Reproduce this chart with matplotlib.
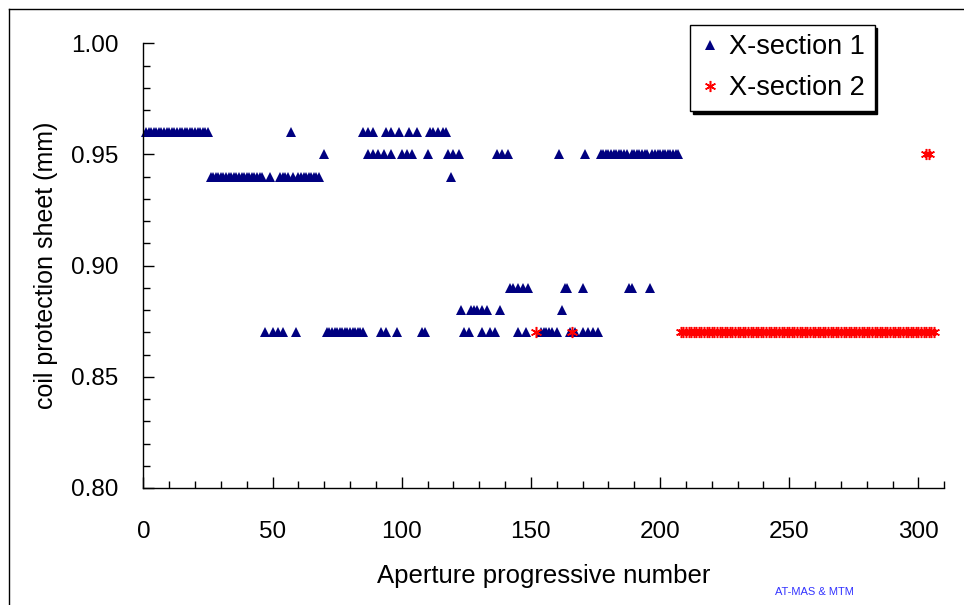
import matplotlib.pyplot as plt
from matplotlib.lines import Line2D
from matplotlib.ticker import MultipleLocator

# X-section 1: aperture numbers for each measured thickness
s1_096 = [1, 2, 3, 4, 5, 6, 7, 8, 9, 10, 11, 12, 13, 14, 15, 16, 17, 18, 19, 20, 21, 22, 23, 24, 25,
          57, 85, 87, 89, 94, 96, 99, 103, 106, 111, 112, 114, 116, 117]
s1_095 = [70, 87, 89, 91, 93, 96, 100, 102, 104, 110, 118, 120, 122, 137, 139, 141, 161, 171,
          177, 178, 179, 180, 181, 182, 183, 184, 185, 186, 187, 189, 190, 191, 192, 193, 194,
          195, 197, 198, 199, 200, 201, 202, 203, 204, 205, 206, 207]
s1_094 = [26, 27, 28, 29, 30, 31, 32, 33, 34, 35, 36, 37, 38, 39, 40, 41, 42, 43, 44, 45, 46,
          49, 53, 54, 55, 56, 58, 60, 61, 62, 63, 64, 65, 66, 67, 68, 119]
s1_089 = [142, 143, 145, 147, 149, 163, 164, 170, 188, 189, 196]
s1_088 = [123, 127, 128, 129, 131, 133, 138, 162]
s1_087 = [47, 50, 52, 54, 59, 71, 72, 73, 74, 75, 76, 77, 78, 79, 80, 81, 82, 83, 84, 85,
          92, 94, 98, 108, 109, 124, 126, 131, 134, 136, 145, 148, 154, 155, 156, 157, 158, 160,
          165, 167, 170, 172, 174, 176]

# X-section 2
s2_095 = [303, 304]
s2_087 = [152, 166,
          208, 209, 210, 211, 212, 213, 214, 215, 216, 217, 218, 219, 220, 221, 222, 223, 224,
          225, 226, 227, 228, 229, 230, 231, 232, 233, 234, 235, 236, 237, 238, 239, 240, 241,
          242, 243, 244, 245, 246, 247, 248, 249, 250, 251, 252, 253, 254, 255, 256, 257, 258,
          259, 260, 261, 262, 263, 264, 265, 266, 267, 268, 269, 270, 271, 272, 273, 274, 275,
          276, 277, 278, 279, 280, 281, 282, 283, 284, 285, 286, 287, 288, 289, 290, 291, 292,
          293, 294, 295, 296, 297, 298, 299, 300, 301, 302, 303, 304, 305, 306]

plt.rcParams['font.family'] = ['Liberation Sans', 'DejaVu Sans']


def series(groups):
    xs, ys = [], []
    for val, apertures in groups:
        xs += apertures
        ys += [val] * len(apertures)
    return xs, ys


def main():
    x1, y1 = series([(0.96, s1_096), (0.95, s1_095), (0.94, s1_094),
                     (0.89, s1_089), (0.88, s1_088), (0.87, s1_087)])
    x2, y2 = series([(0.95, s2_095), (0.87, s2_087)])

    fig = plt.figure(figsize=(9.64, 6.05), dpi=100)
    ax = fig.add_axes([0.1487, 0.1934, 0.8309, 0.735])

    ax.plot(x1, y1, linestyle='none', marker='^', markersize=7,
            color='#000080', markeredgewidth=0, label='X-section 1', clip_on=False)
    ax.plot(x2, y2, linestyle='none', marker=(6, 2, 0), markersize=8,
            color='#FF0000', markeredgewidth=1.1, label='X-section 2', clip_on=False)

    ax.set_xlim(0, 310)
    ax.set_ylim(0.80, 1.00)
    ax.xaxis.set_major_locator(MultipleLocator(50))
    ax.xaxis.set_minor_locator(MultipleLocator(10))
    ax.yaxis.set_major_locator(MultipleLocator(0.05))
    ax.yaxis.set_minor_locator(MultipleLocator(0.01))
    ax.yaxis.set_major_formatter(lambda v, p: f'{v:.2f}')

    for side in ['top', 'right']:
        ax.spines[side].set_visible(False)
    for side in ['left', 'bottom']:
        ax.spines[side].set_linewidth(1)
    ax.tick_params(which='both', direction='in', width=1, labelsize=17.5)
    ax.tick_params(which='major', length=8)
    ax.tick_params(which='minor', length=5)
    ax.tick_params(axis='x', which='major', pad=24)
    ax.tick_params(axis='y', which='major', pad=18)

    ax.set_xlabel('Aperture progressive number', fontsize=18.5)
    ax.set_ylabel('coil protection sheet (mm)', fontsize=18)
    ax.xaxis.set_label_coords(0.5, -0.172)
    ax.yaxis.set_label_coords(-0.107, 0.5)

    leg = ax.legend(loc='upper left', bbox_to_anchor=(690 / 964, 1 - 25 / 605),
                    bbox_transform=fig.transFigure, fontsize=19.5, frameon=True,
                    fancybox=False, shadow={'color': 'black', 'alpha': 1},
                    borderpad=0.35, labelspacing=0.55, handlelength=0.8,
                    handletextpad=0.3, borderaxespad=0)
    leg.get_frame().set_edgecolor('black')
    leg.get_frame().set_linewidth(1)

    fig.text(775 / 964, 1 - 592 / 605, 'AT-MAS & MTM', fontsize=8,
             color='#3333FF', va='center')

    # outer chart frame
    fig.add_artist(Line2D([9 / 964, 1], [1 - 9 / 605, 1 - 9 / 605], color='black', lw=1))
    fig.add_artist(Line2D([9 / 964, 9 / 964], [0, 1 - 9 / 605], color='black', lw=1))

    fig.savefig('out.png', dpi=100)


if __name__ == "__main__":
    main()
